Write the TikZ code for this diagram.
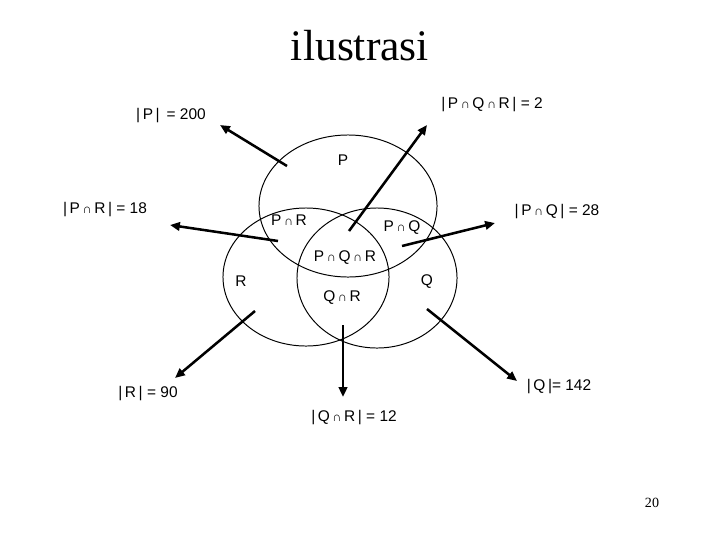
\documentclass[tikz,border=0pt]{standalone}
\usepackage{fontspec}
\setmainfont{Liberation Serif}
\setsansfont{Liberation Sans}
\usetikzlibrary{arrows.meta,shapes.geometric}
\tikzset{
  vennset/.style={draw, ellipse, line width=0.7pt, inner sep=0pt, outer sep=0pt},
  venntext/.style={font=\sffamily\fontsize{11}{13}\selectfont, inner sep=0pt},
  vennarrow/.style={-{Triangle[length=7pt,width=6pt]}, line width=1.8pt}
}
\newcommand{\capp}{\,{\fontsize{9}{11}\selectfont ∩}\,}

\begin{document}
\begin{tikzpicture}[x=0.025cm, y=-0.025cm]
\useasboundingbox (0,0) rectangle (720,540);

\node[font=\fontsize{31}{36}\selectfont, inner sep=0pt] (title) at (360,46) {ilustrasi};
\node[font=\fontsize{10}{12}\selectfont, inner sep=0pt] (page) at (652,503) {20};

% the three sets
\node[vennset, minimum width=4.45cm, minimum height=3.55cm] (setP) at (348,206) {};
\node[vennset, minimum width=4.15cm, minimum height=3.45cm] (setR) at (306,277) {};
\node[vennset, minimum width=4.0cm, minimum height=3.5cm] (setQ) at (377,278) {};

% regions
\node[venntext] (inP) at (343,160) {P};
\node[venntext] (inR) at (241,281) {R};
\node[venntext] (inQ) at (427,282) {Q};
\node[venntext] (inPR) at (289,220) {P\capp R};
\node[venntext] (inPQ) at (402,228) {P\capp Q};
\node[venntext] (inPQR) at (345,258) {P\capp Q\capp R};
\node[venntext] (inQR) at (342,298) {Q\capp R};

% counts
\node[venntext] (cntP) at (171,116) {|\,P\,|\, = 200};
\node[venntext] (cntPQR) at (492,105) {|\,P\capp Q\capp R\,| = 2};
\node[venntext] (cntPR) at (105,210) {|\,P\capp R\,| = 18};
\node[venntext] (cntPQ) at (557,212) {|\,P\capp Q\,| = 28};
\node[venntext] (cntR) at (148,394) {|\,R\,| = 90};
\node[venntext] (cntQR) at (354,418) {|\,Q\capp R\,| = 12};
\node[venntext] (cntQ) at (559,387) {|\,Q\,|= 142};

% arrow ends
\coordinate (tP) at (287,166);   \coordinate (hP) at (220,125);
\coordinate (tPQR) at (349,231); \coordinate (hPQR) at (427,125);
\coordinate (tPR) at (278,241);  \coordinate (hPR) at (170,225);
\coordinate (tPQ) at (402,246);  \coordinate (hPQ) at (495,223);
\coordinate (tR) at (255,311);   \coordinate (hR) at (175,378);
\coordinate (tQR) at (343,325);  \coordinate (hQR) at (343,397);
\coordinate (tQ) at (427,309);   \coordinate (hQ) at (517,381);

\draw[vennarrow] (tP) -- (hP);
\draw[vennarrow] (tPQR) -- (hPQR);
\draw[vennarrow] (tPR) -- (hPR);
\draw[vennarrow] (tPQ) -- (hPQ);
\draw[vennarrow] (tR) -- (hR);
\draw[vennarrow] (tQR) -- (hQR);
\draw[vennarrow] (tQ) -- (hQ);
\end{tikzpicture}
\end{document}
